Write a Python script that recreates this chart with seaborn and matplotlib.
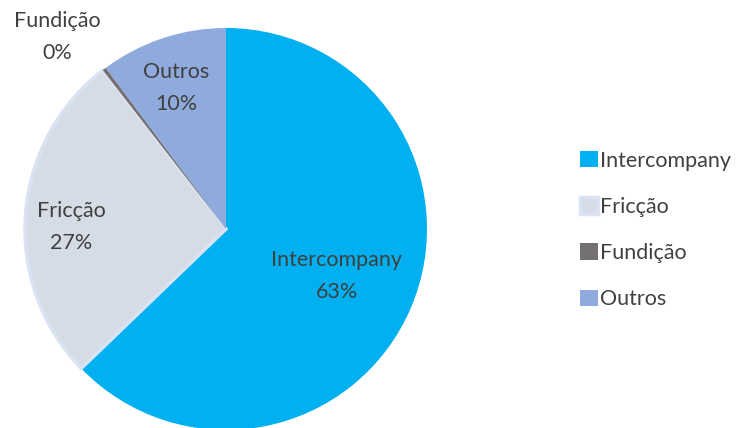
import numpy as np
import seaborn as sns
import matplotlib.pyplot as plt

categories = ["Intercompany", "Fricção", "Fundição", "Outros"]
values = [62.8, 26.7, 0.3, 10.2]
pct_labels = ["63%", "27%", "0%", "10%"]
colors = ["#00B0F0", "#D6DCE5", "#767171", "#8FAADC"]


def plot_pie():
    sns.set_theme(style="white")
    plt.rcParams["font.family"] = ["Lato", "DejaVu Sans"]
    f = plt.figure(figsize=(7.37, 4.28), dpi=100)
    cx, cy, r = 226, 229, 201
    ax = f.add_axes([(cx - r) / 737, (428 - cy - r) / 428, 2 * r / 737, 2 * r / 428])
    wedges, _ = ax.pie(
        values,
        colors=colors,
        startangle=90,
        counterclock=False,
        radius=1,
        wedgeprops={"linewidth": 0},
    )
    # light outline on the Fricção slice, like the original
    wedges[1].set_edgecolor("#DAE3F3")
    wedges[1].set_linewidth(2.5)
    # label distance / angle nudge per slice
    dists = [0.6, 0.77, 1.27, 0.745]
    nudges = [0, 3.5, 4.0, 1.2]
    for w, name, pct, d, n in zip(wedges, categories, pct_labels, dists, nudges):
        theta = np.deg2rad((w.theta1 + w.theta2) / 2 + n)
        ax.text(d * np.cos(theta), d * np.sin(theta), f"{name}\n{pct}",
                ha="center", va="center", fontsize=15.5, color="#404040",
                linespacing=1.75, clip_on=False)
    ax.set_xlim(-1, 1)
    ax.set_ylim(-1, 1)
    ax.set_aspect("equal")
    ax.axis("off")
    f.legend(
        wedges, categories,
        loc="center left",
        bbox_to_anchor=(561 / 737, 1 - 230 / 428),
        frameon=False,
        fontsize=15.5,
        labelcolor="#404040",
        handlelength=0.8,
        handleheight=0.8,
        handletextpad=0.12,
        labelspacing=1.22,
    )
    return f


f = plot_pie()
f.savefig("out.png", dpi=100)
